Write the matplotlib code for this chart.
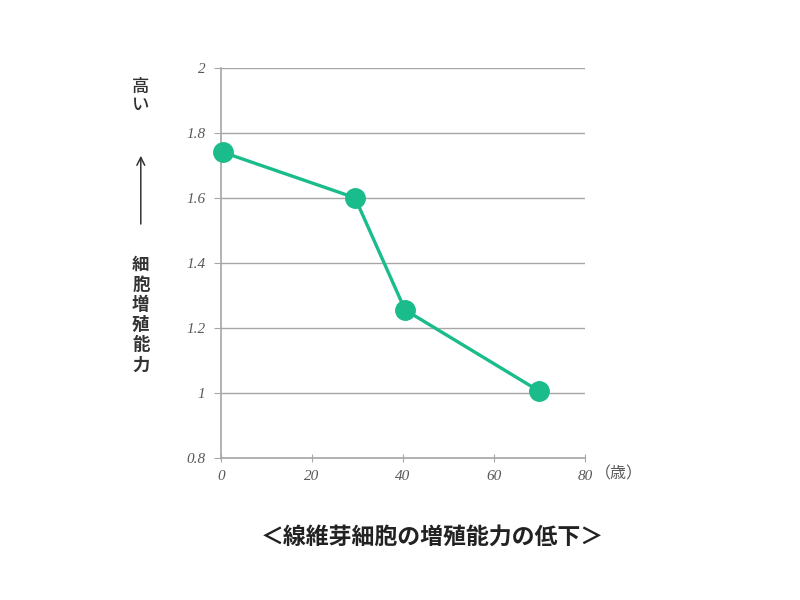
import matplotlib
matplotlib.use("Agg")
import matplotlib.pyplot as plt

plt.rcParams['font.family'] = ['Noto Sans CJK JP', 'DejaVu Sans']

ages = [0.5, 29.5, 40.5, 70]
ability = [1.74, 1.60, 1.255, 1.005]
xticks = [0, 20, 40, 60, 80]
yticks = [0.8, 1.0, 1.2, 1.4, 1.6, 1.8, 2.0]
ytick_labels = ['0.8', '1', '1.2', '1.4', '1.6', '1.8', '2']
title = '＜線維芽細胞の増殖能力の低下＞'
unit = '（歳）'

green = '#1abc8c'
grid_c = '#a6a6a6'
tick_c = '#595959'

fig = plt.figure(figsize=(8, 6), dpi=100)
ax = fig.add_axes([0.276, 0.237, 0.455, 0.650])
ax.plot(ages, ability, color=green, lw=2.4, marker='o', ms=14,
        markerfacecolor=green, markeredgecolor=green, zorder=3, clip_on=False)
ax.set_xlim(0, 80)
ax.set_ylim(0.8, 2.0)
ax.set_xticks(xticks)
ax.set_yticks(yticks)
ax.set_yticklabels(ytick_labels)
ax.yaxis.grid(True, color=grid_c, lw=1)
ax.set_axisbelow(True)
for s in ['top', 'right']:
    ax.spines[s].set_visible(False)
for s in ['left', 'bottom']:
    ax.spines[s].set_color(grid_c)
    ax.spines[s].set_linewidth(1.2)
ax.tick_params(axis='y', length=5, color=grid_c, pad=6)
ax.tick_params(axis='x', length=6, direction='inout', color=grid_c, pad=6)
for lbl in ax.get_xticklabels() + ax.get_yticklabels():
    lbl.set_fontstyle('italic')
    lbl.set_fontfamily('Liberation Serif')
    lbl.set_color(tick_c)
    lbl.set_fontsize(11)

fig.text(0.773, 0.210, unit, fontsize=11.5, color=tick_c, va='center', ha='center')

# vertical y-axis label
fig.text(0.176, 0.840, '高\nい', fontsize=12.5, color='#333333', ha='center', va='center',
         linespacing=1.0, fontweight='medium')
fig.text(0.176, 0.475, '細\n胞\n増\n殖\n能\n力', fontsize=12.5, color='#333333',
         ha='center', va='center', linespacing=1.15, fontweight='bold')
fig.add_artist(matplotlib.patches.FancyArrowPatch(
    (0.176, 0.622), (0.176, 0.745), transform=fig.transFigure,
    arrowstyle='->', mutation_scale=14, color='#333333', lw=1.1))

fig.text(0.540, 0.105, title, fontsize=16.5, fontweight='bold', color='#222222',
         ha='center', va='center')

fig.savefig('out.png', dpi=100)
